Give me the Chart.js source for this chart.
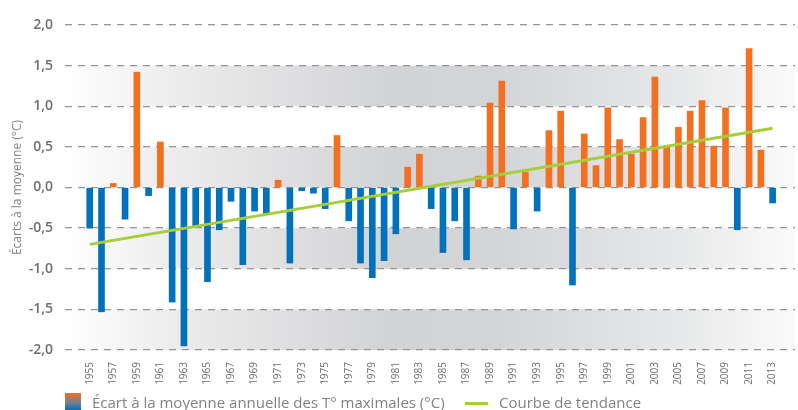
<!DOCTYPE html>
<html>
<head>
<meta charset="utf-8">
<script src="https://cdn.jsdelivr.net/npm/chart.js@4.4.1/dist/chart.umd.min.js"></script>
<style>
  html, body { margin: 0; padding: 0; background: #fff; overflow: hidden; }
  #wrap { position: relative; width: 798px; height: 410px; }
  .legend { position: absolute; top: 392px; font-family: "Open Sans", sans-serif; font-size: 15px; color: #808285; white-space: nowrap; }
  .swatch { position: absolute; left: 65px; top: 393px; width: 16px; height: 17px; background: linear-gradient(#f37021, #7a7f8a 55%, #0072bb); }
  .trendmark { position: absolute; left: 465px; top: 402px; width: 23px; height: 3px; background: #a6ce39; }
</style>
</head>
<body>
<div id="wrap">
  <canvas id="chart" width="798" height="410"></canvas>
  <div class="swatch"></div>
  <div class="legend" style="left: 92px;">Écart à la moyenne annuelle des T° maximales (°C)</div>
  <div class="trendmark"></div>
  <div class="legend" style="left: 499px;">Courbe de tendance</div>
</div>
<script>
// years 1955 -> 2013
const years = [];
for (let y = 1955; y <= 2013; y++) years.push(y);

// deviation from the mean of annual max temperature (°C)
const anomalies = [
  -0.50, -1.53, 0.05, -0.39, 1.42, -0.10, 0.56, -1.41, -1.95, -0.47,
  -1.16, -0.52, -0.17, -0.95, -0.29, -0.32, 0.09, -0.93, -0.04, -0.07,
  -0.26, 0.64, -0.41, -0.93, -1.11, -0.90, -0.57, 0.25, 0.41, -0.26,
  -0.80, -0.41, -0.89, 0.14, 1.04, 1.31, -0.51, 0.19, -0.29, 0.70,
  0.94, -1.20, 0.66, 0.27, 0.98, 0.59, 0.41, 0.86, 1.36, 0.50,
  0.74, 0.94, 1.07, 0.51, 0.98, -0.52, 1.71, 0.46, -0.19
];

// trend line end points
const trendYears = [1955, 2013];
const trendValues = [-0.70, 0.73];

// x tick labels (every other year)
const tickYears = years.filter((y, i) => i % 2 === 0);
const yTicks = [-2, -1.5, -1, -0.5, 0, 0.5, 1, 1.5, 2];
// shaded bands [from, to]
const bands = [[1, 1.5], [0, 0.5], [-1, -0.5], [-2, -1.5]];

const orange = "#f37021";
const blue = "#0072bb";

const bandPlugin = {
  id: "bands",
  beforeDraw(chart) {
    const { ctx, chartArea, scales } = chart;
    const g = ctx.createLinearGradient(chartArea.left, 0, chartArea.right, 0);
    g.addColorStop(0, "#ffffff");
    g.addColorStop(0.15, "#ececed");
    g.addColorStop(0.45, "#d2d3d5");
    g.addColorStop(0.6, "#d4d5d7");
    g.addColorStop(0.85, "#e8e9ea");
    g.addColorStop(1, "#fbfbfb");
    ctx.save();
    ctx.fillStyle = g;
    bands.forEach(([a, b]) => {
      const y1 = scales.y.getPixelForValue(b);
      const y2 = scales.y.getPixelForValue(a);
      ctx.fillRect(chartArea.left, y1, chartArea.right - chartArea.left, y2 - y1);
    });
    ctx.restore();
  }
};

new Chart(document.getElementById("chart"), {
  type: "bar",
  data: {
    datasets: [
      {
        type: "line",
        label: "Courbe de tendance",
        data: trendYears.map((y, i) => ({ x: y, y: trendValues[i] })),
        borderColor: "#a6ce39",
        borderWidth: 3,
        pointRadius: 0,
        order: 0
      },
      {
        label: "Écart à la moyenne annuelle des T° maximales (°C)",
        data: years.map((y, i) => ({ x: y, y: anomalies[i] })),
        backgroundColor: ctx => (ctx.raw && ctx.raw.y >= 0 ? orange : blue),
        barThickness: 6,
        order: 1
      }
    ]
  },
  options: {
    responsive: false,
    animation: false,
    layout: { padding: { top: 25, right: 3, left: 0, bottom: 0 } },
    plugins: { legend: { display: false }, tooltip: { enabled: false } },
    scales: {
      x: {
        type: "linear",
        offset: false,
        min: 1952.9,
        max: 2014.9,
        afterBuildTicks: s => { s.ticks = tickYears.map(v => ({ value: v })); },
        afterFit: s => { s.height = 60; },
        grid: { display: false, offset: false },
        border: { display: false },
        ticks: {
          autoSkip: false,
          maxRotation: 90,
          minRotation: 90,
          padding: 4,
          color: "#6d6e71",
          font: { family: "'Open Sans'", size: 10 },
          callback: v => String(v)
        }
      },
      y: {
        min: -2,
        max: 2,
        afterBuildTicks: s => { s.ticks = yTicks.map(v => ({ value: v })); },
        afterFit: s => { s.width = 65; },
        grid: { color: "#939598", lineWidth: 1.3, drawTicks: false },
        border: { display: false, dash: [7, 6] },
        ticks: {
          padding: 12,
          color: "#6d6e71",
          font: { family: "'Open Sans'", size: 14, weight: "600" },
          callback: v => v.toFixed(1).replace(".", ",")
        },
        title: {
          display: true,
          text: "Écarts à la moyenne (°C)",
          color: "#808285",
          font: { family: "'Open Sans'", size: 12 },
          padding: { top: 10, bottom: 0 }
        }
      }
    }
  },
  plugins: [bandPlugin]
});
</script>
</body>
</html>
